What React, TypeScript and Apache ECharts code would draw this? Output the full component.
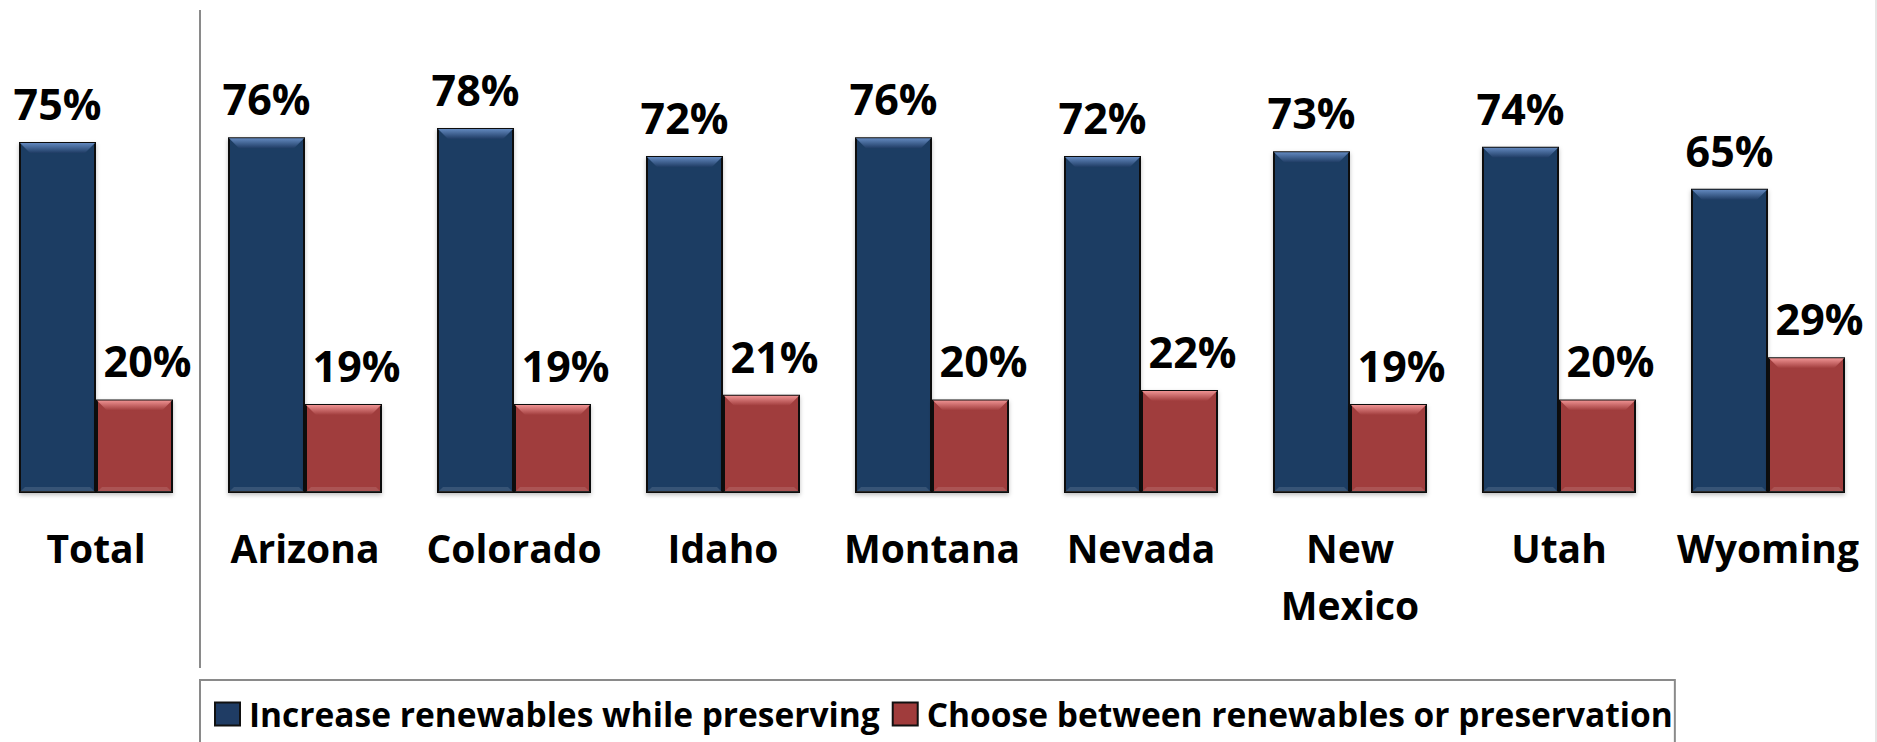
import React, { useEffect, useRef } from "react";
import * as echarts from "echarts";

const categories = ["Total", "Arizona", "Colorado", "Idaho", "Montana", "Nevada", "New\nMexico", "Utah", "Wyoming"];
const increaseValues = [75, 76, 78, 72, 76, 72, 73, 74, 65];
const chooseValues = [20, 19, 19, 21, 20, 22, 19, 20, 29];
const seriesNames = ["Increase renewables while preserving", "Choose between renewables or preservation"];

const FONT = "'Open Sans', Lato, 'Noto Sans', sans-serif";
const BAR_W = 77;

function bevelSeries(values: number[], side: number, light: string, base: string) {
  return {
    type: "custom",
    silent: true,
    z: 3,
    data: values.map((v, i) => [i, v]),
    encode: { x: 0, y: 1 },
    renderItem: (params: any, api: any) => {
      const idx = api.value(0);
      const v = api.value(1);
      const top = api.coord([idx, v]);
      const bot = api.coord([idx, 0]);
      const cx = top[0] + side * BAR_W / 2;
      const x0 = cx - BAR_W / 2 + 1;
      const x1 = cx + BAR_W / 2 - 1;
      const y0 = top[1] + 1;
      const yb = bot[1] - 1;
      const d = 10;
      return {
        type: "group",
        children: [
          {
            type: "polygon",
            shape: { points: [[x0, y0], [x1, y0], [x1 - d, y0 + d], [x0 + d, y0 + d]] },
            style: {
              fill: new echarts.graphic.LinearGradient(0, 0, 0, 1, [
                { offset: 0, color: light },
                { offset: 1, color: base },
              ]),
            },
          },
          {
            type: "polygon",
            shape: { points: [[x0, yb], [x1, yb], [x1 - 5, yb - 5], [x0 + 5, yb - 5]] },
            style: { fill: "rgba(255,255,255,0.12)" },
          },
        ],
      };
    },
  };
}

export default function App() {
  const ref = useRef<HTMLDivElement>(null);
  useEffect(() => {
    document.body.style.margin = "0";
    const chart = echarts.init(ref.current!, null, { renderer: "svg" });
    const labelStyle = {
      show: true,
      position: "top" as const,
      distance: 17,
      formatter: "{c}%",
      fontSize: 43,
      fontWeight: "bold" as const,
      fontFamily: FONT,
      color: "#000",
    };
    chart.setOption({
      animation: false,
      backgroundColor: "#fff",
      textStyle: { fontFamily: FONT },
      grid: { left: -8.5, width: 1881, top: 25, height: 468, containLabel: false, outerBoundsMode: "none" },
      xAxis: {
        type: "category",
        data: categories,
        axisLine: { show: false },
        axisTick: { show: false },
        axisLabel: {
          interval: 0,
          fontSize: 39,
          fontWeight: "bold",
          fontFamily: FONT,
          color: "#000",
          lineHeight: 57,
          margin: 26,
        },
      },
      yAxis: { type: "value", min: 0, max: 100, show: false },
      legend: {
        left: 200,
        top: 680,
        orient: "horizontal",
        borderColor: "#8a8a8a",
        borderWidth: 2,
        padding: [17, 2, 24, 14],
        itemWidth: 25,
        itemHeight: 23,
        itemGap: 12,
        icon: "rect",
        textStyle: { fontSize: 33.5, fontWeight: "bold", fontFamily: FONT, color: "#000", padding: [0, 0, 0, 4] },
        itemStyle: { borderColor: "#111", borderWidth: 2 },
        data: seriesNames,
      },
      graphic: [
        { type: "line", shape: { x1: 200, y1: 10, x2: 200, y2: 668 }, style: { stroke: "#8a8a8a", lineWidth: 2 } },
        { type: "line", shape: { x1: 1876, y1: 0, x2: 1876, y2: 742 }, style: { stroke: "#e6e6e6", lineWidth: 2 } },
      ],
      series: [
        {
          name: seriesNames[0],
          type: "bar",
          data: increaseValues,
          barWidth: BAR_W,
          barGap: "0%",
          itemStyle: {
            color: "#1f3c64",
            borderColor: "#111",
            borderWidth: 2,
            shadowColor: "rgba(0,0,0,0.25)",
            shadowBlur: 4,
            shadowOffsetY: 2,
          },
          label: labelStyle,
        },
        {
          name: seriesNames[1],
          type: "bar",
          data: chooseValues,
          barWidth: BAR_W,
          barGap: "0%",
          itemStyle: {
            color: "#a03c3c",
            borderColor: "#111",
            borderWidth: 2,
            shadowColor: "rgba(0,0,0,0.25)",
            shadowBlur: 4,
            shadowOffsetY: 2,
          },
          label: { ...labelStyle, offset: [13, 0] },
        },
        bevelSeries(increaseValues, -1, "#6288be", "#1f3c64"),
        bevelSeries(chooseValues, 1, "#ee9292", "#a03c3c"),
      ],
    });
    return () => chart.dispose();
  }, []);
  return <div ref={ref} style={{ position: "absolute", left: 0, top: 0, width: 1877, height: 742 }} />;
}
